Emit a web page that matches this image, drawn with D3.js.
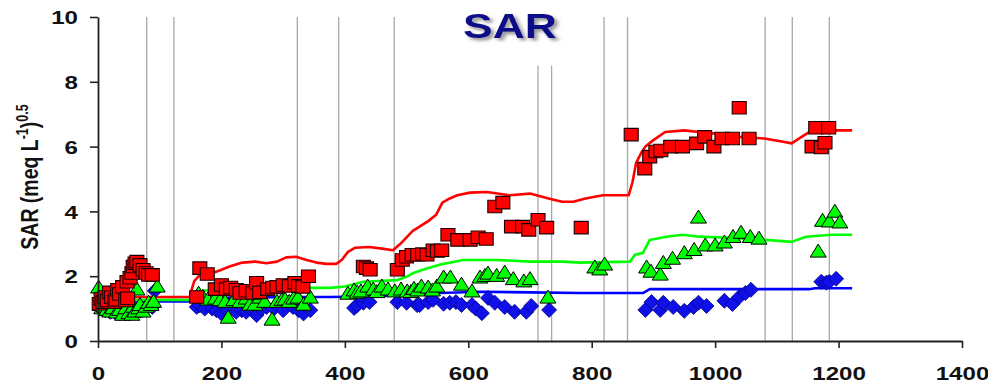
<!DOCTYPE html>
<html>
<head>
<meta charset="utf-8">
<script src="https://d3js.org/d3.v7.min.js"></script>
<style>
  html, body { margin: 0; padding: 0; background: #fff; }
  svg { display: block; font-family: Arial, "Liberation Sans", sans-serif; }
</style>
</head>
<body>
<svg id="chart" width="988" height="385"></svg>
<script>
// Axis ticks
const xTicks = [0, 200, 400, 600, 800, 1000, 1200, 1400];
const yTicks = [0, 2, 4, 6, 8, 10];

// Event markers (day, top of line in SAR units)
const eventDays = [79, 123, 323, 390, 480, 713, 735, 820, 858, 1081, 1125, 1185];
const eventTops = [10, 10, 10, 10, 10, 8.5, 8.5, 10, 10, 10, 10, 10];

// Simulated SAR (lines): [day, SAR]
const simHigh = [[57,1.36],[90,1.36],[120,1.36],[149,1.36],[152,1.6],[156,1.85],[165,2.04],[186,2.1],[200,2.2],[213,2.3],[234,2.42],[255,2.45],[273,2.4],[290,2.45],[305,2.58],[321,2.6],[338,2.5],[354,2.42],[370,2.38],[386,2.38],[395,2.5],[405,2.75],[417,2.88],[440,2.9],[460,2.85],[478,2.8],[490,3.0],[500,3.2],[510,3.4],[521,3.53],[535,3.7],[548,3.9],[558,4.27],[570,4.4],[582,4.5],[603,4.58],[630,4.6],[667,4.5],[700,4.55],[730,4.4],[752,4.3],[770,4.3],[790,4.4],[818,4.5],[860,4.5],[866,4.9],[872,5.5],[880,5.8],[887,6.0],[900,6.2],[919,6.45],[950,6.5],[973,6.45],[1000,6.4],[1040,6.3],[1080,6.25],[1110,6.15],[1124,6.1],[1140,6.3],[1157,6.5],[1200,6.5],[1222,6.5]];
const simMid = [[57,1.27],[90,1.27],[150,1.27],[158,1.45],[170,1.55],[200,1.6],[240,1.63],[280,1.62],[313,1.67],[340,1.64],[377,1.64],[400,1.68],[430,1.83],[485,1.88],[500,1.98],[511,2.1],[530,2.22],[555,2.36],[592,2.5],[645,2.5],[700,2.45],[753,2.45],[781,2.42],[862,2.45],[870,2.66],[883,2.72],[894,3.12],[921,3.22],[947,3.28],[974,3.22],[1030,3.18],[1082,3.12],[1124,3.06],[1147,3.22],[1189,3.28],[1222,3.28]];
const simLow = [[57,1.22],[150,1.22],[160,1.3],[200,1.33],[313,1.36],[377,1.36],[450,1.38],[500,1.42],[555,1.48],[619,1.52],[700,1.5],[781,1.48],[883,1.48],[894,1.6],[1000,1.6],[1152,1.6],[1162,1.63],[1222,1.63]];

// Measured SAR (markers): [day, SAR]
const obsHigh = [[2,1.15],[5,1.3],[8,1.2],[11,1.36],[15,1.25],[19,1.5],[22,1.35],[27,1.2],[29,1.27],[32,1.58],[35,1.45],[40,1.67],[45,1.25],[47,1.83],[48,1.32],[52,1.95],[55,2.1],[57,2.3],[60,2.4],[63,2.45],[68,2.35],[73,2.2],[78,2.1],[82,2.04],[88,2.04],
  [160,1.36],[165,2.25],[177,2.07],[190,1.6],[200,1.73],[208,1.6],[215,1.65],[224,1.58],[230,1.48],[240,1.55],[251,1.48],[257,1.8],[262,1.5],[275,1.6],[283,1.65],[290,1.67],[300,1.73],[310,1.7],[319,1.8],[325,1.7],[332,1.67],[341,2.0],
  [430,2.3],[435,2.25],[441,2.2],[485,2.2],[493,2.5],[500,2.6],[509,2.66],[518,2.66],[526,2.68],[533,2.66],[543,2.8],[550,2.78],[557,2.8],[567,3.28],[583,3.12],[603,3.12],[616,3.2],[629,3.15],[643,4.15],[656,4.27],[670,3.53],[688,3.53],[698,3.43],[713,3.74],[727,3.5],[783,3.5],
  [864,6.37],[886,5.32],[894,5.69],[904,5.85],[912,5.88],[928,6.0],[947,6.0],[970,6.1],[983,6.3],[998,6.0],[1011,6.25],[1028,6.25],[1039,7.2],[1055,6.25],[1157,6.0],[1163,6.58],[1172,5.97],[1178,6.12],[1184,6.58]];
const obsMid = [[1,1.64],[4,1.1],[6,1.0],[10,1.05],[14,0.95],[19,0.9],[24,1.0],[30,0.87],[35,0.95],[40,0.8],[45,1.0],[50,0.85],[55,0.8],[57,1.05],[60,0.9],[63,1.58],[66,1.0],[68,1.1],[73,0.9],[78,1.05],[82,1.17],[86,1.1],[90,1.2],[96,1.67],
  [163,1.45],[170,1.35],[178,1.27],[190,1.3],[198,1.25],[206,1.2],[211,0.71],[220,1.25],[230,1.2],[240,1.3],[246,1.11],[254,1.11],[262,1.33],[270,1.2],[282,0.65],[290,1.2],[298,1.25],[303,1.27],[310,1.2],[317,1.3],[324,1.33],[333,1.11],[344,1.33],
  [405,1.45],[415,1.55],[420,1.48],[426,1.52],[437,1.67],[446,1.58],[452,1.5],[460,1.67],[470,1.58],[481,1.52],[491,1.58],[501,1.52],[507,1.5],[512,1.6],[518,1.55],[524,1.67],[535,1.64],[542,1.55],[549,1.67],[560,1.95],[571,1.95],[589,1.73],[606,1.52],[619,1.95],[627,2.0],[632,2.07],[646,2.0],[659,2.1],[673,1.9],[690,1.83],[700,1.9],[729,1.33],[805,2.26],[813,2.2],[821,2.35],
  [889,2.26],[896,2.13],[911,2.04],[916,2.4],[931,2.53],[950,2.7],[966,2.8],[973,3.8],[984,2.94],[1000,2.94],[1015,3.03],[1029,3.2],[1042,3.33],[1057,3.2],[1071,3.15],[1167,2.75],[1174,3.7],[1185,3.68],[1194,3.98],[1202,3.65]];
const obsLow = [[5,1.0],[12,0.95],[20,0.9],[28,0.88],[36,0.85],[45,0.85],[52,0.85],[60,0.9],[68,0.95],[76,1.0],[88,1.05],[92,1.55],
  [160,1.05],[165,1.1],[173,1.0],[185,1.0],[192,0.95],[200,0.85],[210,0.95],[224,0.9],[233,0.95],[240,0.9],[250,0.95],[257,0.8],[265,1.0],[273,1.05],[285,1.0],[300,0.95],[316,1.05],[325,0.95],[333,0.85],[344,0.95],
  [415,1.02],[420,1.1],[430,1.18],[440,1.2],[485,1.2],[500,1.18],[517,1.11],[521,1.11],[535,1.2],[543,1.27],[560,1.15],[570,1.18],[580,1.2],[589,1.11],[606,1.11],[612,1.0],[622,0.86],[632,1.33],[643,1.18],[659,1.05],[675,0.9],[694,0.9],[702,1.08],[731,0.96],
  [887,0.96],[897,1.2],[911,0.96],[916,1.18],[932,1.05],[950,0.93],[965,1.05],[973,1.18],[986,1.08],[1015,1.24],[1028,1.14],[1039,1.36],[1049,1.48],[1058,1.58],[1172,1.83],[1180,1.8],[1185,1.83],[1196,1.92]];

const svg = d3.select("#chart");
const STRETCH = 1.27;   // horizontal text stretch

const x = d3.scaleLinear().domain([0, 1400]).range([98, 962]);
const y = d3.scaleLinear().domain([0, 10]).range([341, 17]);

// drop shadow for the title
const defs = svg.append("defs");
const f = defs.append("filter").attr("id", "shadow").attr("x", "-20%").attr("y", "-20%").attr("width", "150%").attr("height", "150%");
f.append("feDropShadow").attr("dx", 2.5).attr("dy", 2.5).attr("stdDeviation", 1.6)
  .attr("flood-color", "#777").attr("flood-opacity", 0.8);

// event lines
svg.append("g").selectAll("line").data(eventDays).join("line")
  .attr("x1", d => x(d)).attr("x2", d => x(d))
  .attr("y1", (d, i) => y(eventTops[i])).attr("y2", y(0))
  .attr("stroke", "#a8a8a8").attr("stroke-width", 1.3);

// simulated lines
const line = d3.line().x(d => x(d[0])).y(d => y(d[1]));
[[simLow, "#0000ff"], [simMid, "#00ff00"], [simHigh, "#ff0000"]].forEach(([data, c]) => {
  svg.append("path").datum(data).attr("d", line)
    .attr("fill", "none").attr("stroke", c).attr("stroke-width", 2.6).attr("stroke-linejoin", "round");
});

// marker shapes
const diamond = (w, h) => `M0,${-h/2}L${w/2},0L0,${h/2}L${-w/2},0Z`;
const triangle = (w, h) => `M0,${-h*0.6}L${w/2},${h*0.4}L${-w/2},${h*0.4}Z`;
const square = (w, h) => `M${-w/2},${-h/2}h${w}v${h}h${-w}Z`;

svg.append("g").selectAll("path").data(obsLow).join("path")
  .attr("d", diamond(15, 15))
  .attr("transform", d => `translate(${x(d[0])},${y(d[1])})`)
  .attr("fill", "#1010e8").attr("stroke", "#00008a").attr("stroke-width", 0.8);

svg.append("g").selectAll("path").data(obsMid).join("path")
  .attr("d", triangle(16, 13))
  .attr("transform", d => `translate(${x(d[0])},${y(d[1])})`)
  .attr("fill", "#00ff00").attr("stroke", "#000").attr("stroke-width", 1);

svg.append("g").selectAll("path").data(obsHigh).join("path")
  .attr("d", square(14, 12.5))
  .attr("transform", d => `translate(${x(d[0])},${y(d[1])})`)
  .attr("fill", "#ff0000").attr("stroke", "#1a0000").attr("stroke-width", 1.1);

// axes
const xAxis = svg.append("g").attr("transform", `translate(0,${y(0)})`)
  .call(d3.axisBottom(x).tickValues(xTicks).tickSize(7).tickSizeOuter(0).tickFormat(d3.format("d")));
const yAxis = svg.append("g").attr("transform", `translate(${x(0)},0)`)
  .call(d3.axisLeft(y).tickValues(yTicks).tickSize(8).tickSizeOuter(0).tickFormat(d3.format("d")));

[xAxis, yAxis].forEach(g => {
  g.select(".domain").attr("stroke", "#222").attr("stroke-width", 1.8);
  g.selectAll(".tick line").attr("stroke", "#222").attr("stroke-width", 1.6);
  g.selectAll(".tick text").attr("fill", "#111").attr("font-size", 19).attr("font-weight", "bold")
    .attr("font-family", "Arial, 'Liberation Sans', sans-serif");
});
xAxis.selectAll(".tick text").attr("y", 0).attr("dy", 0)
  .attr("transform", `translate(0,39) scale(${STRETCH},1)`);
yAxis.selectAll(".tick text").attr("x", 0).attr("dy", "0.35em")
  .attr("transform", `translate(-20,0) scale(${STRETCH},1)`);

// y-axis title
const yt = svg.append("text")
  .attr("transform", `translate(38,177) scale(${STRETCH},1) rotate(-90)`)
  .attr("text-anchor", "middle").attr("font-size", 19.5).attr("font-weight", "bold").attr("fill", "#111");
yt.append("tspan").text("SAR (meq L");
yt.append("tspan").attr("font-size", 12.5).attr("dy", -8).text("-1");
yt.append("tspan").attr("dy", 8).text(")");
yt.append("tspan").attr("font-size", 12.5).attr("dy", -8).text("0.5");

// chart title
svg.append("text")
  .attr("transform", `translate(510,38) scale(${STRETCH},1)`)
  .attr("text-anchor", "middle").attr("font-size", 35).attr("font-weight", "bold")
  .attr("fill", "#0c0c8a").attr("filter", "url(#shadow)").text("SAR");
</script>
</body>
</html>
